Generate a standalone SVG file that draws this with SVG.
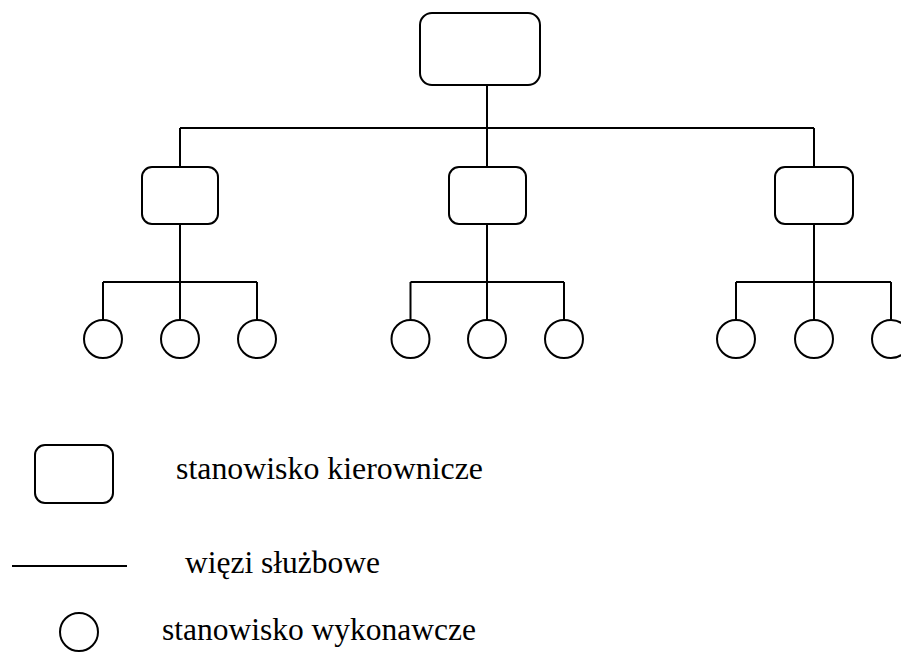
<svg xmlns="http://www.w3.org/2000/svg" width="901" height="652" viewBox="0 0 901 652">
<style>
.box{fill:#fff;stroke:#000;stroke-width:2}
.c{fill:#fff;stroke:#000;stroke-width:2}
.ln{fill:none;stroke:#000;stroke-width:2}
text{font-family:"Liberation Serif","Times New Roman",serif;font-size:31px;fill:#000}
</style>
<rect width="901" height="652" fill="#fff"/>
<g id="connectors" class="ln">
<path d="M487 85V128M180 128H814M180 128V167M487 128V167M814 128V167"/>
<path d="M180 224V282M103 282H257M103 282V320M180 282V320M257 282V320"/>
<path d="M487 224V282M410.5 282H564M410.5 282V320M487 282V320M564 282V320"/>
<path d="M814 224V282M736 282H891M736 282V320M814 282V320M891 282V320"/>
</g>
<g id="top"><rect class="box" x="420" y="13" width="120" height="72" rx="12"/></g>
<g id="m1"><rect class="box" x="142" y="167" width="76" height="57" rx="10"/></g>
<g id="m2"><rect class="box" x="449" y="167" width="77" height="57" rx="10"/></g>
<g id="m3"><rect class="box" x="775" y="167" width="78" height="57" rx="10"/></g>
<g id="w1"><circle class="c" cx="103" cy="339" r="19"/></g>
<g id="w2"><circle class="c" cx="180" cy="339" r="19"/></g>
<g id="w3"><circle class="c" cx="257" cy="339" r="19"/></g>
<g id="w4"><circle class="c" cx="410.5" cy="339" r="19"/></g>
<g id="w5"><circle class="c" cx="487" cy="339" r="19"/></g>
<g id="w6"><circle class="c" cx="564" cy="339" r="19"/></g>
<g id="w7"><circle class="c" cx="736" cy="339" r="19"/></g>
<g id="w8"><circle class="c" cx="814" cy="339" r="19"/></g>
<g id="w9"><circle class="c" cx="891" cy="339" r="19"/></g>
<g id="legend-box"><rect class="box" x="35" y="445" width="78" height="58" rx="10"/><text x="176" y="479" textLength="307" lengthAdjust="spacingAndGlyphs">stanowisko kierownicze</text></g>
<g id="legend-line"><line class="ln" x1="12" y1="566" x2="127" y2="566"/><text x="185" y="573" textLength="195" lengthAdjust="spacingAndGlyphs">więzi służbowe</text></g>
<g id="legend-circle"><circle class="c" cx="79" cy="632" r="19"/><text x="162" y="640" textLength="314" lengthAdjust="spacingAndGlyphs">stanowisko wykonawcze</text></g>
</svg>
